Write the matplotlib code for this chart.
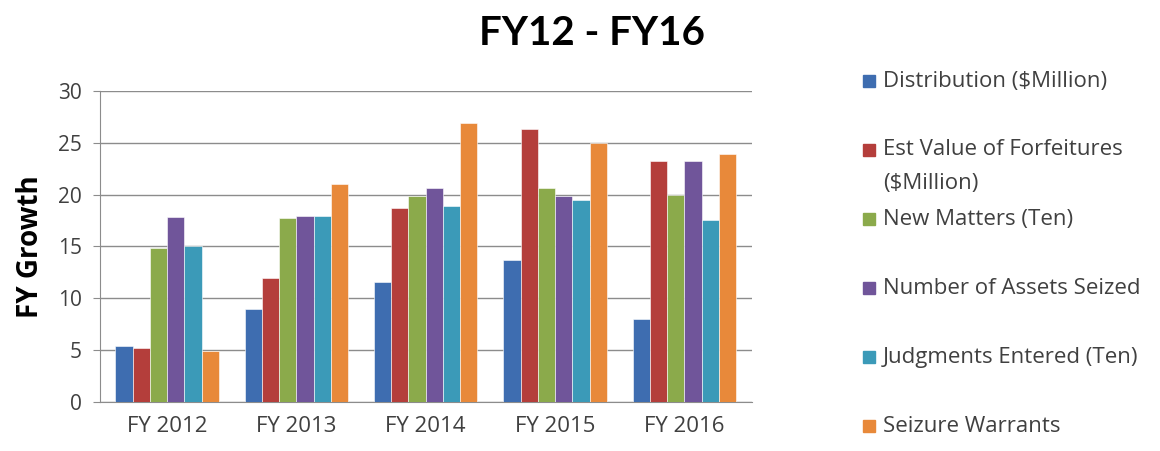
import numpy as np
import matplotlib.pyplot as plt
from matplotlib.patches import Rectangle

plt.rcParams['font.family'] = ['Open Sans', 'DejaVu Sans']

years = ['FY 2012', 'FY 2013', 'FY 2014', 'FY 2015', 'FY 2016']
series = ['Distribution ($Million)', 'Est Value of Forfeitures\n($Million)',
          'New Matters (Ten)', 'Number of Assets Seized',
          'Judgments Entered (Ten)', 'Seizure Warrants']
distribution = [5.35, 9.0, 11.6, 13.7, 8.0]
forfeitures = [5.15, 11.95, 18.75, 26.3, 23.3]
new_matters = [14.9, 17.75, 19.9, 20.6, 19.95]
assets_seized = [17.8, 17.9, 20.65, 19.9, 23.3]
judgments = [15.05, 17.9, 18.9, 19.45, 17.6]
warrants = [4.95, 21.0, 26.9, 25.0, 23.9]
colors = ['#3E6DB0', '#B43E3B', '#8BAA4B', '#70559A', '#3B9AB8', '#E8893A']

data = [distribution, forfeitures, new_matters, assets_seized, judgments, warrants]

fig = plt.figure(figsize=(11.6, 4.51), dpi=100)
ax = fig.add_axes([0.086, 0.109, 0.562, 0.689])

x = np.arange(len(years))
n = len(data)
w = 0.8 / n
for i, vals in enumerate(data):
    ax.bar(x - 0.4 + w * (i + 0.5), vals, width=w, color=colors[i],
           edgecolor='white', linewidth=0.4, zorder=3)

ax.set_xlim(-0.52, 4.52)
ax.set_ylim(0, 30)
ax.set_yticks(range(0, 31, 5))
ax.set_xticks(x)
ax.set_xticklabels(years)
ax.yaxis.grid(True, color='#8c8c8c', linewidth=1.0, zorder=0)
for s in ['top', 'right']:
    ax.spines[s].set_visible(False)
for s in ['left', 'bottom']:
    ax.spines[s].set_color('#8c8c8c')
ax.tick_params(axis='y', labelsize=15, colors='#404040', length=5, color='#8c8c8c', pad=8)
ax.tick_params(axis='x', labelsize=16, colors='#404040', length=0, pad=10)
ax.set_ylabel('FY Growth', fontsize=20, fontweight='bold', labelpad=9)

fig.text(0.51, 0.925, 'FY12 - FY16', ha='center', va='center',
         fontsize=29, fontweight='bold', family=['Lato', 'DejaVu Sans'])

# legend drawn by hand so the wrapped entry keeps Excel-like even spacing
W, H = 1160, 451
y0, step, line_gap = 81, 69, 33
for i, (lab, c) in enumerate(zip(series, colors)):
    yc = y0 + step * i
    fig.patches.append(Rectangle((863 / W, 1 - (yc + 6) / H), 12 / W, 12 / H,
                                 transform=fig.transFigure, color=c))
    for k, part in enumerate(lab.split('\n')):
        fig.text(883 / W, 1 - (yc + k * line_gap) / H, part, ha='left',
                 va='center', fontsize=16, color='#404040')

fig.savefig('out.png', dpi=100)
